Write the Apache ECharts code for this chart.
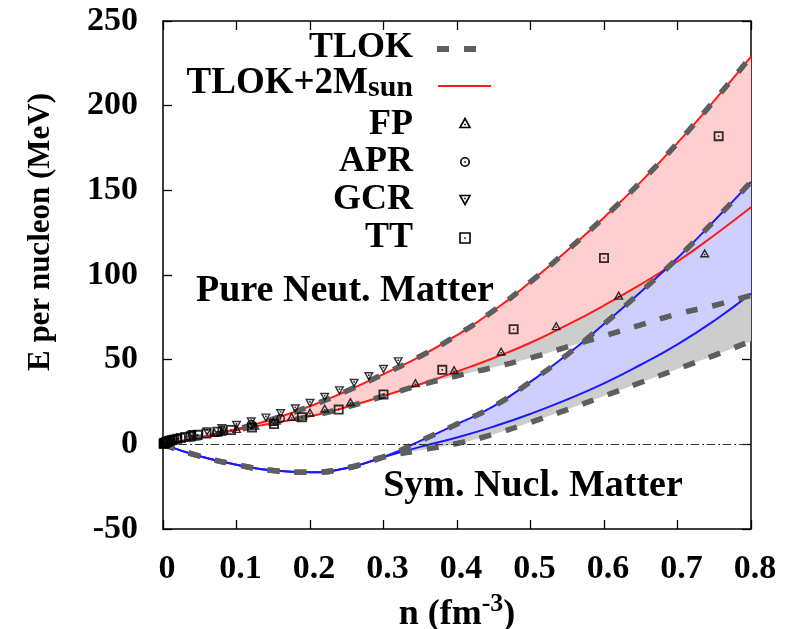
<!DOCTYPE html>
<html><head><meta charset="utf-8">
<script src="https://cdn.jsdelivr.net/npm/echarts@6/dist/echarts.min.js"></script>
<style>html,body{margin:0;padding:0;background:#fff}#c{width:793px;height:629px}</style>
</head><body><div id="c"></div>
<script>
// ---- data ----
const nGrid      = [0,0.05,0.1,0.15,0.2,0.25,0.3,0.35,0.4,0.45,0.5,0.55,0.6,0.65,0.7,0.75,0.8];
const pnmUpper   = [0,4,9,15,22.5,31.5,41.5,52,64.5,79,96,114.5,134,155,178,203,229];
const pnmRedLow  = [0,4,8.5,12.5,16.5,22,28.5,35.5,43,51,60,70.5,82,94.5,108,123.5,140];
const pnmDashLow = [0,4,8.5,12.5,16.5,22,28.5,35,40.5,45.5,51,57.5,64,70.5,77,82,88];
const snmUpper   = [0,-7,-12,-15.5,-16.5,-14,-7.5,2,12,22.5,37,53,71,90,110,132,155];
const snmBlueLow = [0,-7,-12,-15.5,-16.5,-14,-7.5,-1.5,4,10.5,18,26.5,36,47,59,73,89];
const snmDashLow = [0,-7,-12,-15.5,-16.5,-14,-7.5,-3.5,0.5,6,13,20.5,28.5,36.5,44.5,52.5,61];

const fpN  = [0.07,0.08,0.1,0.125,0.15,0.175,0.2,0.22,0.255,0.3435,0.396,0.46,0.535,0.62,0.737];
const fpE  = [7,7.8,9.3,11.3,13.5,16.4,19,21.3,25.2,36.4,44,55,70,88,113];
const aprN = [0.02,0.04,0.08,0.12,0.16];
const aprE = [3.4,5.4,8.6,11.8,15.2];
const gcrN = [0.04,0.06,0.08,0.10,0.12,0.14,0.16,0.18,0.20,0.22,0.24,0.26,0.28,0.30,0.32];
const gcrE = [5.8,7.5,9.3,11.2,13.3,15.6,18.2,21,24.2,27.8,31.7,36,40,44.3,48.8];
const ttN  = [0.0008,0.0012,0.0016,0.002,0.0025,0.0032,0.004,0.005,0.0063,0.0079,0.0099,0.0124,0.0155,0.0194,0.0242,0.0303,0.0379,0.0473,0.0592,0.074,0.0925,0.121,0.151,0.189,0.239,0.3,0.38,0.477,0.6,0.756];
const ttE  = [0.4,0.5,0.6,0.7,0.85,1.0,1.2,1.4,1.6,1.9,2.2,2.5,2.9,3.3,3.8,4.3,4.9,5.6,6.4,7.4,8.5,10,12,16,20.5,29.5,44,68,110,182];

const xTicks = [0,0.1,0.2,0.3,0.4,0.5,0.6,0.7,0.8];
const yTicks = [-50,0,50,100,150,200,250];

// ---- helpers ----
const FONT = 'Liberation Serif';
const pairs = (xs, ys) => xs.map((x, i) => [x, ys[i]]);
const diff = (a, b) => a.map((v, i) => v - b[i]);
const DASH = {color:'#5e5e5e', width:5.5, type:[12,15], cap:'butt'};
const RED = '#ff1a1a', BLUE = '#1a1aff';

const symTri  = 'path://M5,0L10,9L0,9Z M5,3L2.4,7.6L7.6,7.6Z M4.2,5.2L5.8,5.2L5.8,6.8L4.2,6.8Z';
const symTriD = 'path://M0,0L10,0L5,9Z M2.4,1.4L5,6L7.6,1.4Z M4.2,2.2L5.8,2.2L5.8,3.8L4.2,3.8Z';
const symSq   = 'path://M0,0L10,0L10,10L0,10Z M1.8,1.8L1.8,8.2L8.2,8.2L8.2,1.8Z M4.2,4.2L5.8,4.2L5.8,5.8L4.2,5.8Z';
const symCirc = 'path://M0,5A5,5,0,1,1,10,5A5,5,0,1,1,0,5Z M1.7,5A3.3,3.3,0,1,0,8.3,5A3.3,3.3,0,1,0,1.7,5Z M4.2,4.2L5.8,4.2L5.8,5.8L4.2,5.8Z';

function band(id, low, up, color) {
  return [
    {type:'line', xAxisIndex:2, stack:id, stackStrategy:'all', data:low, symbol:'none', smooth:true,
     lineStyle:{width:0, opacity:0}, silent:true, z:1},
    {type:'line', xAxisIndex:2, stack:id, stackStrategy:'all', data:diff(up, low), symbol:'none', smooth:true,
     lineStyle:{width:0, opacity:0}, areaStyle:{color:color, opacity:1}, silent:true, z:1}
  ];
}
function curve(name, vals, style) {
  return {name:name, type:'line', xAxisIndex:2, data:vals, symbol:'none', smooth:true, lineStyle:style, silent:true, z:3};
}
function pts(name, xs, ys, sym, size) {
  return {name:name, type:'scatter', data:pairs(xs, ys), symbol:sym, symbolSize:size, clip:false,
          itemStyle:{color:'#000', borderWidth:0}, silent:true, z:5};
}

const tickLabel = {fontSize:34, fontWeight:'bold', fontFamily:FONT, color:'#000'};
const axLine = {onZero:false, lineStyle:{color:'#000', width:1.5}};
const axTick = {inside:true, length:9, lineStyle:{color:'#000', width:1.3}};

const option = {
  animation:false,
  backgroundColor:'#fff',
  grid:{left:163, right:42, top:21, bottom:100, containLabel:false, outerBoundsMode:'none'},
  xAxis:[
    {type:'value', min:0, max:0.8, interval:0.1, position:'bottom', axisLine:axLine, axisTick:axTick, splitLine:{show:false},
     axisLabel:Object.assign({margin:23, padding:[0,0,0,8], formatter:v => v === 0 ? '0' : v.toFixed(1)}, tickLabel),
     name:'{a|n (fm}{s|-3}{a|)}', nameLocation:'middle', nameGap:49,
     nameTextStyle:{rich:{
       a:{fontSize:36, fontWeight:'bold', fontFamily:FONT, color:'#000', lineHeight:48},
       s:{fontSize:26, fontWeight:'bold', fontFamily:FONT, color:'#000', lineHeight:20, verticalAlign:'top'}}}},
    {type:'value', min:0, max:0.8, interval:0.1, position:'top', axisLine:axLine, axisTick:axTick, splitLine:{show:false}, axisLabel:{show:false}},
    {type:'category', data:nGrid.map(String), boundaryGap:false, show:false}
  ],
  yAxis:[
    {type:'value', min:-50, max:250, interval:50, position:'left', axisLine:axLine, axisTick:axTick, splitLine:{show:false},
     axisLabel:Object.assign({margin:25}, tickLabel)},
    {type:'value', min:-50, max:250, interval:50, position:'right', axisLine:axLine, axisTick:axTick, splitLine:{show:false}, axisLabel:{show:false}}
  ],
  series:[
    ...band('snmGray', snmDashLow, snmBlueLow, '#cdcdcd'),
    ...band('pnmGray', pnmDashLow, pnmRedLow, '#cdcdcd'),
    ...band('pnmPink', pnmRedLow, pnmUpper, '#ffcfcf'),
    ...band('snmBlue', snmBlueLow, snmUpper, '#cfcfff'),
    Object.assign(curve('TLOK+2Msun', pnmUpper, {color:RED, width:2}), {
      markLine:{silent:true, symbol:'none', label:{show:false}, animation:false,
        lineStyle:{color:'#333', width:1.2, type:[8,3,2,3]}, data:[{yAxis:0}]}}),
    curve('TLOK+2Msun', pnmRedLow, {color:RED, width:2}),
    curve('TLOK+2Msun', snmUpper, {color:BLUE, width:2}),
    curve('TLOK+2Msun', snmBlueLow, {color:BLUE, width:2}),
    curve('TLOK', pnmUpper, DASH),
    curve('TLOK', pnmDashLow, DASH),
    curve('TLOK', snmUpper, DASH),
    curve('TLOK', snmDashLow, DASH),
    pts('TT', ttN, ttE, symSq, 10),
    pts('GCR', gcrN, gcrE, symTriD, [10,9]),
    pts('APR', aprN, aprE, symCirc, 9),
    pts('FP', fpN, fpE, symTri, [10,9])
  ],
  graphic:[
    {type:'text', x:41, y:232, rotation:Math.PI/2, style:{text:'E per nucleon (MeV)', fontSize:31, fontWeight:'bold', fontFamily:FONT, fill:'#000', align:'center', verticalAlign:'middle'}},
    {type:'text', x:345, y:291, style:{text:'Pure Neut. Matter', fontSize:38, fontWeight:'bold', fontFamily:FONT, fill:'#000', align:'center', verticalAlign:'middle'}},
    {type:'text', x:533, y:486, style:{text:'Sym. Nucl. Matter', fontSize:38, fontWeight:'bold', fontFamily:FONT, fill:'#000', align:'center', verticalAlign:'middle'}},
    // legend
    {type:'text', x:413, y:48, style:{text:'TLOK', fontSize:36, fontWeight:'bold', fontFamily:FONT, fill:'#000', align:'right', verticalAlign:'middle'}},
    {type:'line', shape:{x1:437, y1:49, x2:490, y2:49}, style:{stroke:'#5e5e5e', lineWidth:6, lineDash:[12,15]}},
    {type:'text', x:413, y:83, style:{text:'{a|TLOK+2M}{s|sun}', align:'right', verticalAlign:'middle',
      rich:{a:{fontSize:37, fontWeight:'bold', fontFamily:FONT, fill:'#000', lineHeight:40},
            s:{fontSize:30, fontWeight:'bold', fontFamily:FONT, fill:'#000', lineHeight:12, verticalAlign:'bottom'}}}},
    {type:'line', shape:{x1:438, y1:86, x2:491, y2:86}, style:{stroke:RED, lineWidth:2}},
    {type:'text', x:413, y:124.5, style:{text:'FP', fontSize:36, fontWeight:'bold', fontFamily:FONT, fill:'#000', align:'right', verticalAlign:'middle'}},
    {type:'polygon', shape:{points:[[460,127.5],[470,127.5],[465,118.5]]}, style:{fill:'none', stroke:'#000', lineWidth:1.6}},
    {type:'rect', shape:{x:464.2, y:123.7, width:1.6, height:1.6}, style:{fill:'#000'}},
    {type:'text', x:413, y:161.5, style:{text:'APR', fontSize:36, fontWeight:'bold', fontFamily:FONT, fill:'#000', align:'right', verticalAlign:'middle'}},
    {type:'circle', shape:{cx:465, cy:162, r:4.2}, style:{fill:'none', stroke:'#000', lineWidth:1.6}},
    {type:'rect', shape:{x:464.2, y:161.2, width:1.6, height:1.6}, style:{fill:'#000'}},
    {type:'text', x:413, y:199.5, style:{text:'GCR', fontSize:36, fontWeight:'bold', fontFamily:FONT, fill:'#000', align:'right', verticalAlign:'middle'}},
    {type:'polygon', shape:{points:[[460,195.5],[470,195.5],[465,204.5]]}, style:{fill:'none', stroke:'#000', lineWidth:1.6}},
    {type:'rect', shape:{x:464.2, y:197.7, width:1.6, height:1.6}, style:{fill:'#000'}},
    {type:'text', x:413, y:237.5, style:{text:'TT', fontSize:36, fontWeight:'bold', fontFamily:FONT, fill:'#000', align:'right', verticalAlign:'middle'}},
    {type:'rect', shape:{x:460, y:233, width:10, height:10}, style:{fill:'none', stroke:'#000', lineWidth:1.6}},
    {type:'rect', shape:{x:464.2, y:237.2, width:1.6, height:1.6}, style:{fill:'#000'}}
  ]
};
const chart = echarts.init(document.getElementById('c'));
chart.setOption(option);
</script></body></html>
